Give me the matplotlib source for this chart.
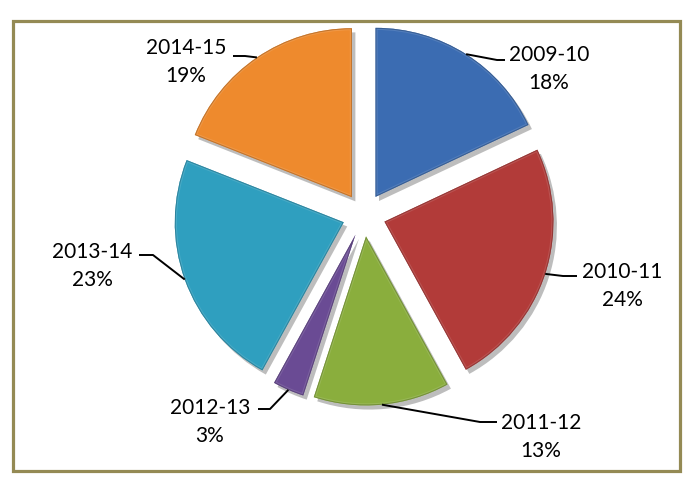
import numpy as np
import matplotlib
matplotlib.use('Agg')
import matplotlib.pyplot as plt
import matplotlib.patches as mpatches
import matplotlib.patheffects as pe
import matplotlib.colors as mcolors

years = ['2009-10', '2010-11', '2011-12', '2012-13', '2013-14', '2014-15']
shares = [18, 24, 13, 3, 23, 19]
colors = ['#3b6cb2', '#b23b39', '#8aae3d', '#6a4b94', '#2f9fbf', '#ee8a2d']

# layout in pixels of the 686x481 picture
W, H = 686, 481
cx, cy, R, gap = 364, 216, 169, 21.5
# (text centre x, first-line y, elbow x, elbow y, end x) per label
label_pos = [
    (549, 55, 497, 61, 505),
    (622, 272, 563, 277, 577),
    (541, 423, 480, 423, 497),
    (210, 408, 270, 410, 258),
    (92, 252, 153, 256, 139),
    (186, 48, 245, 57, 233),
]


def to_data(x, y):
    return (x - cx) / R, (cy - y) / R


fig = plt.figure(figsize=(W / 100, H / 100), dpi=100)
ax = fig.add_axes([0, 0, 1, 1])

wedges, _ = ax.pie(shares, colors=colors, startangle=90, counterclock=False,
                   explode=[gap / R] * len(shares), radius=1,
                   wedgeprops=dict(linewidth=0))
ax.set_xlim(-cx / R, (W - cx) / R)
ax.set_ylim(-(H - cy) / R, cy / R)
ax.set_aspect('equal', adjustable='box')
ax.axis('off')

# bevel-ish look: shadow, soft light rim and darker edge, clipped to each slice
for w, c in zip(wedges, colors):
    w.set_path_effects([pe.SimplePatchShadow(offset=(2.5, -3), shadow_rgbFace='#444444', alpha=0.35),
                        pe.Normal()])
    light = [min(1, v + (1 - v) * 0.3) for v in mcolors.to_rgb(c)]
    rim = mpatches.Wedge(w.center, w.r, w.theta1, w.theta2, facecolor='none',
                         edgecolor=light, linewidth=3.0, alpha=0.4)
    ax.add_patch(rim)
    rim.set_clip_path(w)
    dark = [v * 0.72 for v in mcolors.to_rgb(c)]
    rim2 = mpatches.Wedge(w.center, w.r, w.theta1, w.theta2, facecolor='none',
                          edgecolor=dark, linewidth=1.4, alpha=0.7)
    ax.add_patch(rim2)
    rim2.set_clip_path(w)

# labels with leader lines
for w, name, val, (tx, ty, ex, ey, hx) in zip(wedges, years, shares, label_pos):
    th = np.deg2rad((w.theta1 + w.theta2) / 2)
    sx, sy = w.center[0] + w.r * np.cos(th), w.center[1] + w.r * np.sin(th)
    e = to_data(ex, ey)
    h = to_data(hx, ey)
    ax.plot([sx, e[0], h[0]], [sy, e[1], h[1]], color='black', lw=1.4,
            solid_capstyle='butt', zorder=5)
    p1 = to_data(tx, ty)
    p2 = to_data(tx, ty + 28)
    ax.text(p1[0], p1[1], name, ha='center', va='center', fontsize=15,
            family='Lato', zorder=6)
    ax.text(p2[0], p2[1], f'{val}%', ha='center', va='center', fontsize=15,
            family='Lato', zorder=6)

# outer frame
frame = mpatches.Rectangle((13 / W, 1 - 472 / H), 667 / W, 450 / H,
                           transform=fig.transFigure, fill=False,
                           edgecolor='#948a54', linewidth=2.3)
fig.patches.append(frame)

fig.savefig('out.png', dpi=100)
